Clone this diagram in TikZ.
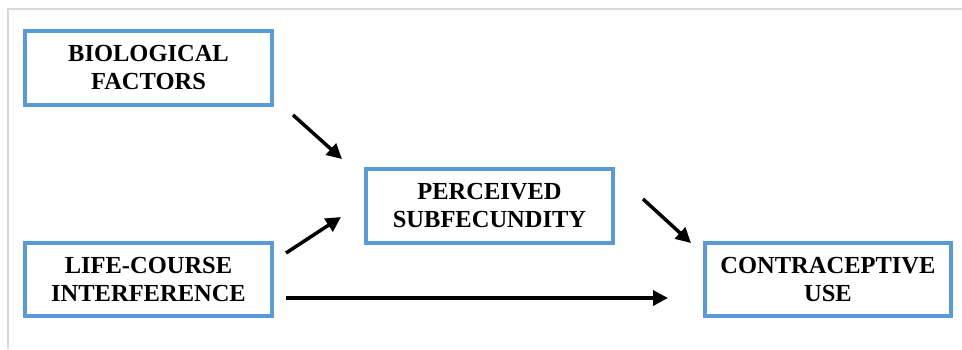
\documentclass[tikz,border=0pt]{standalone}
\usepackage{fontspec}
\setmainfont{Liberation Serif}
\usetikzlibrary{arrows.meta}
\definecolor{boxblue}{HTML}{5B9BD5}
\definecolor{frame}{HTML}{D9D9D9}
\begin{document}
\begin{tikzpicture}[x=1pt,y=1pt,
  box/.style={draw=boxblue,line width=3.5pt,rectangle,inner sep=0pt,align=center,
    font=\fontsize{24.5}{28}\selectfont\bfseries,text=black},
  arr/.style={line width=3.5pt,-{Triangle[length=15pt,width=15pt]}}]
\useasboundingbox (0,0) rectangle (962,-349);
\fill[white] (0,0) rectangle (962,-349);
\draw[frame,line width=1.5pt] (962,-9) -- (8,-9) -- (8,-349);
\node[box,minimum width=247pt,minimum height=74pt] (bio) at (148.5,-68) {BIOLOGICAL\\FACTORS};
\node[box,minimum width=247pt,minimum height=74pt] (per) at (489.5,-206) {PERCEIVED\\SUBFECUNDITY};
\node[box,minimum width=246pt,minimum height=73pt] (con) at (828,-279.5) {CONTRACEPTIVE\\USE};
\node[box,minimum width=247pt,minimum height=73pt] (life) at (148.5,-279.5) {LIFE-COURSE\\INTERFERENCE};
\coordinate (a1s) at (293,-115);
\coordinate (a1e) at (342,-159);
\coordinate (a2s) at (286,-253);
\coordinate (a2e) at (341,-217);
\coordinate (a3s) at (643,-199);
\coordinate (a3e) at (691,-243);
\coordinate (a4s) at (286,-298);
\coordinate (a4e) at (668,-298);
\draw[arr] (a1s) -- (a1e);
\draw[arr] (a2s) -- (a2e);
\draw[arr] (a3s) -- (a3e);
\draw[arr] (a4s) -- (a4e);
\end{tikzpicture}
\end{document}
